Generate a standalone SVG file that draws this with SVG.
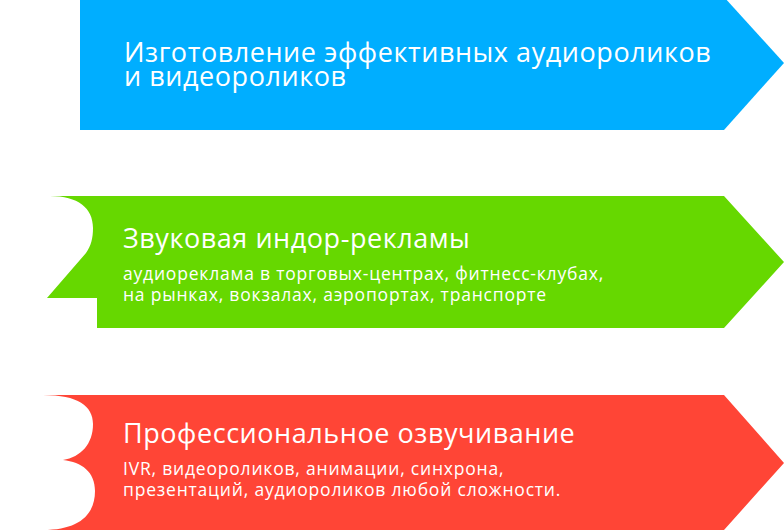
<svg xmlns="http://www.w3.org/2000/svg" width="784" height="530" viewBox="0 0 784 530">
<style>
.t{font-family:"Open Sans","Noto Sans","Liberation Sans",sans-serif;fill:#ffffff}
.h{font-size:27px;letter-spacing:0.55px}
.s{font-size:17.5px;letter-spacing:0.8px}
</style>
<rect width="784" height="530" fill="#ffffff"/>
<g id="node1">
<path d="M80,-3 L724,-3 L784,63 L724,130 L80,130 Z" fill="#00aeff"/>
<text class="t h" x="124" y="62">Изготовление эффективных аудиороликов</text>
<text class="t h" x="124" y="86">и видеороликов</text>
</g>
<g id="node2">
<path d="M43,196 L724,196 L784,262 L724,328 L97,328 L97,298 L47,298 L86,253 C91,246 93,238 93,228 C93,208 78,196 50,196 Z" fill="#66d800"/>
<text class="t h" x="123" y="248">Звуковая индор-рекламы</text>
<text class="t s" x="123" y="280">аудиореклама в торговых-центрах, фитнесс-клубах,</text>
<text class="t s" x="123" y="301">на рынках, вокзалах, аэропортах, транспорте</text>
</g>
<g id="node3">
<path d="M43,395 L724,395 L784,463 L724,530 L43,530 C80,530 95,514 95,491 C95,472 82,462 63,460 C81,457 93,444 93,424 C93,406 78,395 43,395 Z" fill="#ff4536"/>
<text class="t h" x="123" y="443">Профессиональное озвучивание</text>
<text class="t s" x="123" y="475">IVR, видеороликов, анимации, синхрона,</text>
<text class="t s" x="123" y="496">презентаций, аудиороликов любой сложности.</text>
</g>
<g id="connectors"></g>
</svg>
